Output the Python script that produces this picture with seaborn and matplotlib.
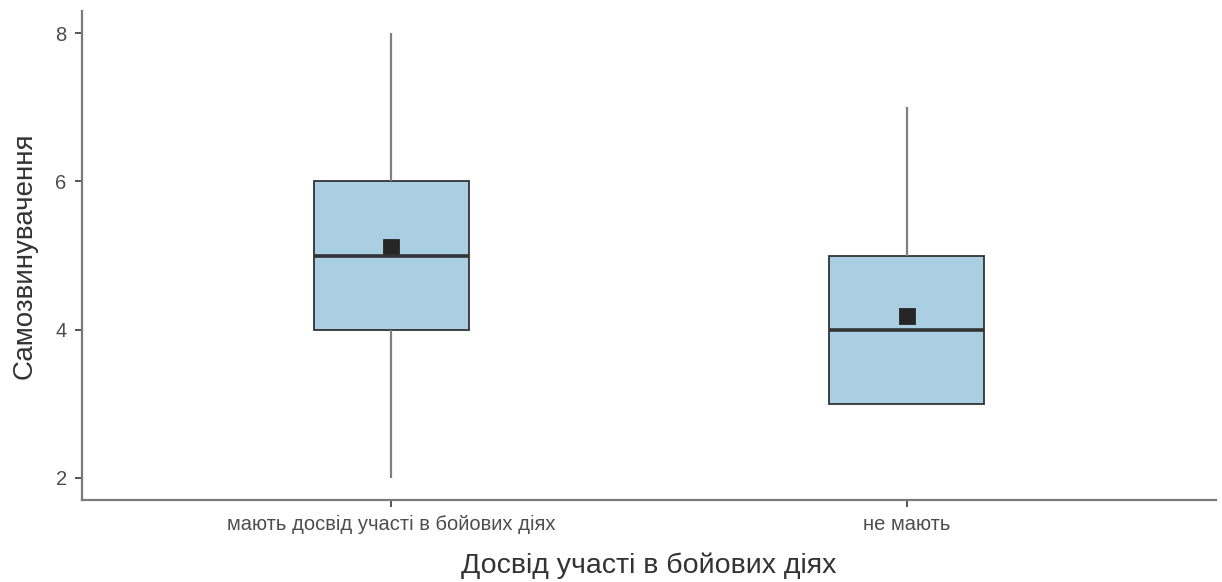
import numpy as np
import pandas as pd
import seaborn as sns
import matplotlib.pyplot as plt

# Five-number summaries and means for each group
groups = ["мають досвід участі в бойових діях", "не мають"]
mins = [2, 3]
q1 = [4, 3]
medians = [5, 4]
q3 = [6, 5]
maxs = [8, 7]
means = [5.12, 4.18]

sns.set_theme(style="white")
plt.rcParams["font.family"] = ["Liberation Sans", "DejaVu Sans"]

rows = []
for g, a, b, c, d, e in zip(groups, mins, q1, medians, q3, maxs):
    for v in (a, b, c, d, e):
        rows.append({"group": g, "value": v})
df = pd.DataFrame(rows)

fig = plt.figure(figsize=(12.22, 5.82), dpi=100)
ax = fig.add_axes([0.0671, 0.1409, 0.9280, 0.8400])

fill = "#abcfe2"
edge = "#333333"
sns.boxplot(
    data=df, x="group", y="value", order=groups, ax=ax,
    width=0.3, color=fill, saturation=1, showcaps=False, showfliers=False,
    whis=1.5,
    boxprops={"edgecolor": edge, "linewidth": 1.3},
    whiskerprops={"color": "#7f7f7f", "linewidth": 1.6},
    medianprops={"color": edge, "linewidth": 2.6},
)
sns.pointplot(
    x=groups, y=means, order=groups, ax=ax, linestyle="none",
    markers="s", markersize=10, color="#262626", errorbar=None,
)

ax.set_xlim(-0.6, 1.6)
ax.set_ylim(1.7, 8.3)
ax.set_yticks([2, 4, 6, 8])
ax.set_xlabel("Досвід участі в бойових діях", fontsize=20.5, color="#333333", labelpad=13)
ax.set_ylabel("Самозвинувачення", fontsize=20, color="#333333", labelpad=13)

sns.despine(ax=ax)
for side in ("left", "bottom"):
    ax.spines[side].set_color("#7a7a7a")
    ax.spines[side].set_linewidth(1.6)
ax.tick_params(axis="both", which="both", length=5, width=1.4, color="#555555",
               labelsize=14.5, labelcolor="#4d4d4d", bottom=True, left=True, pad=6)

fig.savefig("out.png", dpi=100)
